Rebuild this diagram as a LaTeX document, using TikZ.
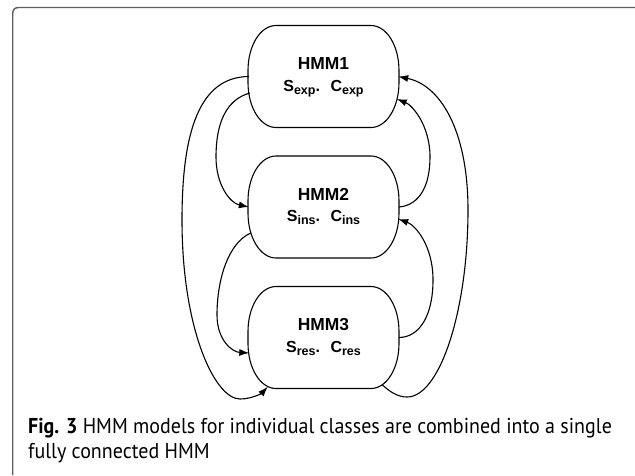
\documentclass[tikz,border=0pt]{standalone}
\usepackage{fontspec}
\setmainfont{Liberation Sans}
\newfontfamily\capfont[FakeStretch=0.93]{PT Sans}
\usetikzlibrary{arrows.meta}
\newcommand\hmmsub[1]{\raisebox{-3pt}{\fontsize{12.5}{14}\selectfont #1}}
% name, cx, cy, title, S-sub, C-sub
\newcommand\hmmstate[6]{%
  \node[hmmbox] (#1) at (#2,#3) {};
  \draw[outline] (#2-47.5,#3-51) -- (#2+47.5,#3-51)
    .. controls (#2+63,#3-51) and (#2+75.5,#3-31) .. (#2+75.5,#3-6)
    -- (#2+75.5,#3+6)
    .. controls (#2+75.5,#3+31) and (#2+63,#3+51) .. (#2+47.5,#3+51)
    -- (#2-47.5,#3+51)
    .. controls (#2-63,#3+51) and (#2-75.5,#3+31) .. (#2-75.5,#3+6)
    -- (#2-75.5,#3-6)
    .. controls (#2-75.5,#3-31) and (#2-63,#3-51) .. (#2-47.5,#3-51) -- cycle;
  \node[titletext] (#1t) at (#2,#3-7) {#4};
  \node[partext] (#1p) at (#2,#3+14.5) {S\hmmsub{#5}.\hspace{10.5pt}C\hmmsub{#6}};
}
\begin{document}
\begin{tikzpicture}[x=1pt,y=-1pt,
  hmmbox/.style={rectangle,draw=none,minimum width=151pt,minimum height=102pt,inner sep=0pt},
  outline/.style={line width=1.1pt,black},
  conn/.style={line width=1.1pt,black,-{Latex[length=10pt,width=7pt]}},
  titletext/.style={inner sep=0pt,anchor=base,font=\bfseries\fontsize{17.4}{20}\selectfont},
  partext/.style={inner sep=0pt,anchor=base,font=\bfseries\fontsize{16}{19}\selectfont},
  captext/.style={inner sep=0pt,anchor=base west,font=\capfont\fontsize{21.5}{25}\selectfont},
  frame/.style={line width=1.4pt,draw={rgb,255:red,95;green,95;blue,95}}]
\useasboundingbox (0,0) rectangle (635,475);
\fill[white] (0,0) rectangle (635,475);
\draw[frame] (12.7,475) -- (12.7,14) .. controls (12.7,9.5) and (14.5,7.5) .. (19,7.5) -- (635,7.5);

\hmmstate{h1}{323.5}{76.5}{HMM1}{exp}{exp}
\hmmstate{h2}{323.5}{207}{HMM2}{ins}{ins}
\hmmstate{h3}{323.5}{337.5}{HMM3}{res}{res}

% left side
\draw[conn] ([xshift=1pt]h1.west) .. controls (200,77) and (182,130) .. (182,220)
  .. controls (182,330) and (215,399) .. (240,399)
  .. controls (252,399) and (262,393) .. ([xshift=20pt,yshift=2pt]h3.south west);
\draw[conn] ([xshift=2pt,yshift=-16.5pt]h1.west) .. controls (225,100) and (216,125) .. (216,157)
  .. controls (216,185) and (230,203) .. ([xshift=1pt]h2.west);
\draw[conn] ([xshift=3pt,yshift=-26pt]h2.west) .. controls (228,243) and (217,280) .. (217,315)
  .. controls (217,340) and (232,352) .. ([xshift=1.5pt,yshift=-15.5pt]h3.west);
% right side
\draw[conn] (h3.east) .. controls (420,337) and (433,315) .. (433,280)
  .. controls (433,245) and (415,225) .. ([xshift=-1pt,yshift=-12pt]h2.east);
\draw[conn] (h2.east) .. controls (420,205) and (430,185) .. (430,157)
  .. controls (430,125) and (412,105) .. ([xshift=-2.5pt,yshift=-22.5pt]h1.east);
\draw[conn] ([xshift=-17pt,yshift=4pt]h3.south east) .. controls (390,392) and (398,397) .. (407,397)
  .. controls (440,397) and (468,310) .. (468,210)
  .. controls (468,130) and (440,85) .. ([xshift=-1pt]h1.east);

\node[captext] (cap1) at (28,433) {\textbf{Fig. 3} HMM models for individual classes are combined into a single};
\node[captext] (cap2) at (28,458) {fully connected HMM};
\end{tikzpicture}
\end{document}
